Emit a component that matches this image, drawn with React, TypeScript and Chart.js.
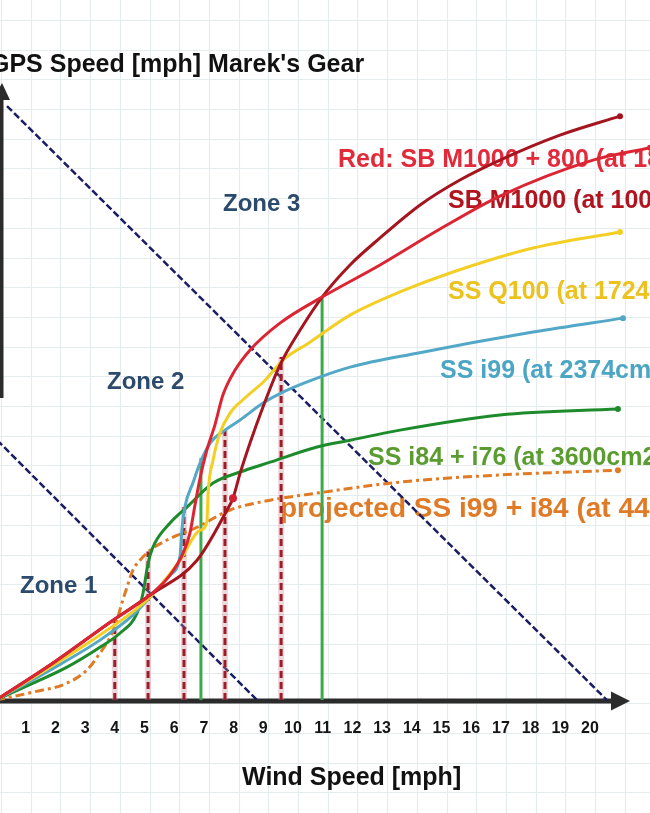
import React, { useEffect, useRef } from "react";
import { Chart, registerables } from "chart.js";

Chart.register(...registerables);

// Wind speed tick labels (mph)
const windTicks = [1, 2, 3, 4, 5, 6, 7, 8, 9, 10, 11, 12, 13, 14, 15, 16, 17, 18, 19, 20];

// GPS speed curves: [wind mph, gps units]
const sbM1000Plus800: number[][] = [
  [0, 0], [1.82, 1.18], [3.94, 2.69], [5.19, 3.54], [5.86, 4.21], [6.3, 4.95], [6.53, 5.62],
  [6.7, 6.57], [6.87, 7.47], [7.1, 8.42], [7.37, 9.26], [7.64, 10.27], [8.05, 11.11],
  [8.55, 11.78], [9.56, 12.69], [10.98, 13.57], [12.93, 14.65], [14.95, 15.86],
  [16.97, 16.97], [20.1, 18.18], [22.02, 18.6],
];
const sbM1000: number[][] = [
  [0, 0], [1.82, 1.18], [3.94, 2.69], [5.19, 3.54], [6.77, 4.71], [7.78, 6.4], [7.98, 6.8],
  [8.22, 7.64], [8.55, 8.65], [8.99, 9.87], [9.56, 11.28], [10.24, 12.46], [10.98, 13.57],
  [11.92, 14.65], [12.93, 15.56], [14.28, 16.67], [15.62, 17.51], [16.97, 18.18],
  [18.99, 19.02], [21.01, 19.66],
];
const ssQ100: number[][] = [
  [0, 0], [1.82, 1.11], [3.5, 2.19], [5.19, 3.47], [6.2, 4.71], [6.87, 5.72], [7.1, 5.99],
  [7.14, 6.97], [7.31, 8.08], [7.54, 8.99], [7.88, 9.66], [8.38, 10.17], [9.06, 10.77],
  [9.66, 11.45], [10.57, 12.05], [11.92, 12.96], [13.6, 13.74], [15.29, 14.38],
  [18.08, 15.22], [21.01, 15.76],
];
const ssI99: number[][] = [
  [0, 0], [1.82, 1.01], [3.5, 2.02], [4.61, 2.86], [5.19, 3.47], [5.86, 4.21], [6.2, 4.88],
  [6.26, 5.72], [6.36, 6.5], [6.63, 7.31], [6.87, 7.98], [7.21, 8.65], [7.71, 9.09],
  [8.22, 9.43], [8.99, 10.0], [9.66, 10.37], [10.81, 10.84], [11.92, 11.21],
  [14.18, 11.68], [18.08, 12.39], [21.11, 12.86],
];
const ssI84I76: number[][] = [
  [0, 0], [1.25, 0.57], [2.39, 1.11], [3.5, 1.78], [4.18, 2.26], [4.75, 2.93], [4.95, 3.6],
  [5.08, 4.38], [5.19, 4.88], [5.35, 5.29], [5.86, 5.96], [6.43, 6.5], [7.31, 7.31],
  [8.22, 7.68], [9.23, 8.01], [10.81, 8.52], [11.92, 8.75], [13.6, 9.09], [16.97, 9.6],
  [20.94, 9.8],
];
const projectedI99I84: number[][] = [
  [0, 0], [1.25, 0.27], [2.39, 0.57], [3.06, 1.01], [3.5, 1.58], [3.84, 2.12], [4.07, 2.69],
  [4.24, 3.27], [4.41, 3.8], [4.61, 4.38], [4.85, 4.71], [5.19, 5.05], [5.76, 5.39],
  [6.77, 5.82], [7.88, 6.4], [9.23, 6.73], [10.81, 6.97], [13.6, 7.34], [16.97, 7.58],
  [20.94, 7.74],
];

// Zone boundaries (dashed navy diagonals)
const zoneLineUpper: number[][] = [[0.37, 20.0], [20.57, 0]];
const zoneLineLower: number[][] = [[-0.2, 8.99], [8.79, 0]];

// Vertical markers: [wind mph, top gps]
const dashedDrops: number[][] = [[4.0, 2.69], [5.12, 5.0], [6.33, 6.5], [7.71, 9.09], [9.6, 11.55]];
const greenDrops: number[][] = [[6.9, 8.15], [10.98, 13.57]];
const markerPoints: number[][] = [[7.98, 6.8]];

const seriesLabels = [
  "Red: SB M1000 + 800 (at 1800cm2)",
  "SB M1000 (at 1000cm2)",
  "SS Q100 (at 1724cm2)",
  "SS i99 (at 2374cm2)",
  "SS i84 + i76 (at 3600cm2)",
  "projected SS i99 + i84 (at 4400cm2)",
];
const seriesColors = ["#dc2533", "#a5151f", "#f3cf26", "#52a8c6", "#1d8b2b", "#e07a24"];
const labelColors = ["#e12b3b", "#b1141f", "#ecc21e", "#4ba6c4", "#5b9c30", "#df7b27"];
const zoneLabels = ["Zone 1", "Zone 2", "Zone 3"];
const titleText = "GPS Speed [mph] Marek's Gear";
const xTitleText = "Wind Speed [mph]";

const toXY = (arr: number[][]) => arr.map(([x, y]) => ({ x, y }));

const FONT = '"Liberation Sans", Arial, sans-serif';

const decor = {
  id: "decor",
  beforeDraw(chart: any) {
    const { ctx, width, height } = chart;
    const xs = chart.scales.x;
    const ys = chart.scales.y;
    ctx.save();
    ctx.fillStyle = "#ffffff";
    ctx.fillRect(0, 0, width, height);
    ctx.strokeStyle = "#e5ecee";
    ctx.lineWidth = 1.2;
    for (let k = -1; k <= 23; k++) {
      const px = Math.round(xs.getPixelForValue(k + 0.17)) + 0.5;
      ctx.beginPath();
      ctx.moveTo(px, 0);
      ctx.lineTo(px, height);
      ctx.stroke();
    }
    for (let k = -4; k <= 24; k++) {
      const py = Math.round(ys.getPixelForValue(k - 0.1)) + 0.5;
      ctx.beginPath();
      ctx.moveTo(0, py);
      ctx.lineTo(width, py);
      ctx.stroke();
    }
    ctx.restore();
  },
  beforeDatasetsDraw(chart: any) {
    const { ctx } = chart;
    const xs = chart.scales.x;
    const ys = chart.scales.y;
    ctx.save();
    // axes
    const y0 = ys.getPixelForValue(0) + 1;
    ctx.strokeStyle = "#2b2b2b";
    ctx.fillStyle = "#2b2b2b";
    ctx.lineWidth = 5;
    ctx.beginPath();
    ctx.moveTo(0, y0);
    ctx.lineTo(614, y0);
    ctx.stroke();
    ctx.beginPath();
    ctx.moveTo(611, y0 - 9.5);
    ctx.lineTo(611, y0 + 9.5);
    ctx.lineTo(630, y0);
    ctx.closePath();
    ctx.fill();
    ctx.beginPath();
    ctx.moveTo(1, 96);
    ctx.lineTo(1, 398);
    ctx.stroke();
    ctx.beginPath();
    ctx.moveTo(-7, 100);
    ctx.lineTo(10, 100);
    ctx.lineTo(2, 83);
    ctx.closePath();
    ctx.fill();

    // tick labels
    ctx.fillStyle = "#151515";
    ctx.font = `bold 16px ${FONT}`;
    ctx.textAlign = "center";
    ctx.textBaseline = "alphabetic";
    windTicks.forEach((t) => {
      ctx.fillText(String(t), xs.getPixelForValue(t), 733);
    });

    // titles
    ctx.textAlign = "left";
    ctx.fillStyle = "#111111";
    ctx.font = `bold 25px ${FONT}`;
    ctx.fillText(titleText, -10, 72);
    ctx.fillText(xTitleText, 242, 785);

    // zones
    ctx.fillStyle = "#2c4a6c";
    ctx.font = `bold 24px ${FONT}`;
    ctx.fillText(zoneLabels[0], 20, 593);
    ctx.fillText(zoneLabels[1], 107, 389);
    ctx.fillText(zoneLabels[2], 223, 211);

    // series labels
    const labelPos = [
      [338, 167, 25],
      [448, 208, 25],
      [448, 299, 25],
      [440, 378, 25],
      [368, 465, 25],
      [280, 517, 28],
    ];
    labelPos.forEach(([lx, ly, fs], i) => {
      ctx.fillStyle = labelColors[i];
      ctx.font = `bold ${fs}px ${FONT}`;
      ctx.fillText(seriesLabels[i], lx, ly);
    });
    ctx.restore();
  },
};

export default function App() {
  const canvasRef = useRef<HTMLCanvasElement | null>(null);

  useEffect(() => {
    if (!canvasRef.current) return;
    const endDot = (ctx: any) =>
      ctx.dataIndex === ctx.dataset.data.length - 1 ? 3 : 0;

    const curves = [sbM1000Plus800, sbM1000, ssQ100, ssI99, ssI84I76, projectedI99I84].map(
      (arr, i) => ({
        label: seriesLabels[i],
        data: toXY(arr),
        borderColor: seriesColors[i],
        backgroundColor: seriesColors[i],
        borderWidth: 3,
        borderDash: i === 5 ? [9, 4, 3, 4] : [],
        pointRadius: endDot,
        pointBorderWidth: 0,
        cubicInterpolationMode: "monotone" as const,
        fill: false,
      })
    );

    const drops = dashedDrops.map(([x, top]) => ({
      label: "drop",
      data: [{ x, y: 0 }, { x, y: top }],
      borderColor: "#9d1c29",
      borderWidth: 3,
      borderDash: [7, 4],
      pointRadius: 0,
      tension: 0,
    }));
    const dropHalos = dashedDrops.map(([x, top]) => ({
      label: "halo",
      data: [{ x, y: 0 }, { x, y: top }],
      borderColor: "rgba(205,140,150,0.35)",
      borderWidth: 6,
      pointRadius: 0,
      tension: 0,
    }));
    const greens = greenDrops.map(([x, top]) => ({
      label: "green",
      data: [{ x, y: 0 }, { x, y: top }],
      borderColor: "#3aaa4a",
      borderWidth: 3,
      pointRadius: 0,
      tension: 0,
    }));
    const zones = [zoneLineUpper, zoneLineLower].map((arr) => ({
      label: "zone",
      data: toXY(arr),
      borderColor: "#1b1d63",
      borderWidth: 2.5,
      borderDash: [7, 3],
      pointRadius: 0,
      tension: 0,
    }));
    const marker = {
      label: "marker",
      data: toXY(markerPoints),
      showLine: false,
      pointRadius: 4,
      pointBackgroundColor: "#d42030",
      pointBorderWidth: 0,
      borderColor: "#d42030",
    };

    const chart = new Chart(canvasRef.current, {
      type: "line",
      data: {
        datasets: [marker, ...curves, ...drops, ...dropHalos, ...greens, ...zones] as any,
      },
      options: {
        animation: false,
        responsive: false,
        maintainAspectRatio: false,
        layout: { padding: 0, autoPadding: false },
        plugins: { legend: { display: false }, tooltip: { enabled: false } },
        scales: {
          x: { type: "linear", display: false, min: 0.135, max: 22.02 },
          y: { type: "linear", display: false, min: -3.8, max: 23.57 },
        },
      },
      plugins: [decor],
    });
    return () => chart.destroy();
  }, []);

  return (
    <div style={{ position: "absolute", left: 0, top: 0, width: 650, height: 813 }}>
      <canvas ref={canvasRef} width={650} height={813} />
    </div>
  );
}
